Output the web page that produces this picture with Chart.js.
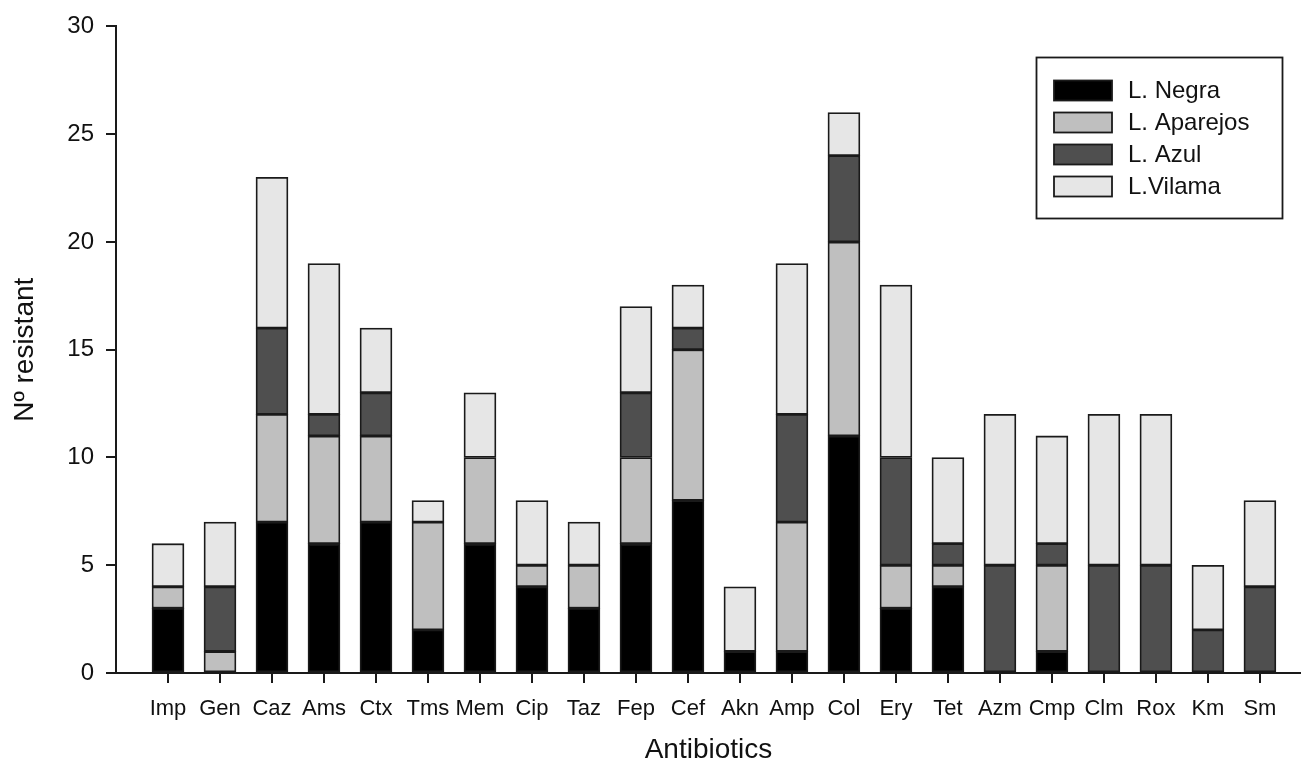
<!DOCTYPE html>
<html>
<head>
<meta charset="utf-8">
<script src="https://cdn.jsdelivr.net/npm/chart.js@4.4.1/dist/chart.umd.min.js"></script>
<style>
  html, body { margin: 0; padding: 0; background: #fff; }
  #wrap { width: 1301px; height: 771px; position: relative; }
</style>
</head>
<body>
<div id="wrap"><canvas id="c" width="1301" height="771"></canvas></div>
<script>
const categories = ["Imp","Gen","Caz","Ams","Ctx","Tms","Mem","Cip","Taz","Fep","Cef","Akn","Amp","Col","Ery","Tet","Azm","Cmp","Clm","Rox","Km","Sm"];
const seriesNames = ["L. Negra","L. Aparejos","L. Azul","L.Vilama"];
const negra    = [3,0,7,6,7,2,6,4,3,6,8,1,1,11,3,4,0,1,0,0,0,0];
const aparejos = [1,1,5,5,4,5,4,1,2,4,7,0,6,9,2,1,0,4,0,0,0,0];
const azul     = [0,3,4,1,2,0,0,0,0,3,1,0,5,4,5,1,5,1,5,5,2,4];
const vilama   = [2,3,7,7,3,1,3,3,2,4,2,3,7,2,8,4,7,5,7,7,3,4];
const yTicks = [0,5,10,15,20,25,30];
const colors = ["#000000","#bfbfbf","#4f4f4f","#e6e6e6"];

const seriesValues = [negra, aparejos, azul, vilama];
const datasets = seriesValues.map((vals, s) => ({
  label: seriesNames[s],
  data: vals.map((v, i) => ({ x: i + 1, y: v === 0 ? null : v })),
  backgroundColor: colors[s],
  borderColor: "#1a1a1a",
  borderWidth: 1.8,
  borderSkipped: false,
  barThickness: 32
}));

const FONT = "'Liberation Sans', Arial, sans-serif";

const boxLegend = {
  id: "boxLegend",
  afterDraw(chart) {
    const ctx = chart.ctx;
    ctx.save();
    ctx.strokeStyle = "#1a1a1a";
    ctx.lineWidth = 1.8;
    ctx.strokeRect(1036.5, 57.5, 246, 161);
    ctx.font = "24px " + FONT;
    ctx.textBaseline = "middle";
    ctx.textAlign = "left";
    chart.data.datasets.forEach((ds, i) => {
      const cy = 90.5 + i * 32;
      ctx.fillStyle = ds.backgroundColor;
      ctx.fillRect(1054, cy - 10, 58, 20);
      ctx.strokeStyle = "#1a1a1a";
      ctx.lineWidth = 1.8;
      ctx.strokeRect(1054, cy - 10, 58, 20);
      ctx.fillStyle = "#111";
      ctx.fillText(ds.label, 1128, cy + 1);
    });
    ctx.restore();
  }
};

new Chart(document.getElementById("c"), {
  type: "bar",
  data: { datasets },
  plugins: [boxLegend],
  options: {
    responsive: false,
    animation: false,
    parsing: { xAxisKey: "x", yAxisKey: "y" },
    layout: { padding: { top: 22, right: 0, bottom: 0, left: 0 } },
    plugins: { legend: { display: false }, tooltip: { enabled: false } },
    scales: {
      x: {
        type: "linear",
        stacked: true,
        min: 0,
        max: 22.79,
        offset: false,
        afterBuildTicks: (axis) => { axis.ticks = categories.map((c, i) => ({ value: i + 1 })); },
        afterFit: (scale) => { scale.height = 98; },
        ticks: {
          autoSkip: false,
          maxRotation: 0,
          minRotation: 0,
          padding: 13,
          color: "#111",
          font: { family: FONT, size: 22 },
          callback: (v) => categories[v - 1] || ""
        },
        grid: { offset: false, drawOnChartArea: false, drawTicks: true, tickLength: 10, color: "#1a1a1a", lineWidth: 2 },
        border: { display: true, color: "#1a1a1a", width: 2 },
        title: { display: true, text: "Antibiotics", color: "#111", font: { family: FONT, size: 28, lineHeight: 1 }, padding: { top: 0, bottom: 7 } }
      },
      y: {
        stacked: true,
        min: 0,
        max: 30,
        afterBuildTicks: (axis) => { axis.ticks = yTicks.map(v => ({ value: v })); },
        afterFit: (scale) => { scale.width = 116; },
        ticks: { padding: 12, color: "#111", font: { family: FONT, size: 24 } },
        grid: { drawOnChartArea: false, drawTicks: true, tickLength: 10, color: "#1a1a1a", lineWidth: 2 },
        border: { display: true, color: "#1a1a1a", width: 2 },
        title: { display: true, text: "Nº resistant", color: "#111", font: { family: FONT, size: 28, lineHeight: 1 }, padding: { top: 11, bottom: 0 } }
      }
    }
  }
});
</script>
</body>
</html>
